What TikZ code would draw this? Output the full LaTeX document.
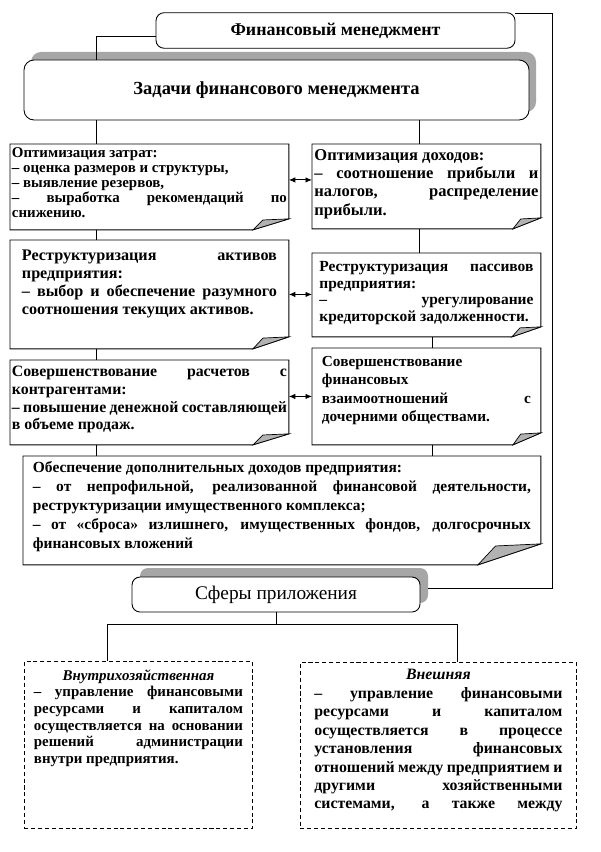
\documentclass[tikz,border=0pt]{standalone}
\usepackage{fontspec}
\setmainfont{Liberation Serif}
\usetikzlibrary{arrows.meta,shadows}
\hyphenpenalty=10000
\exhyphenpenalty=10000

% note box with a folded lower right corner: node, fold width (cm), fold height (cm)
\newcommand{\foldbox}[3]{%
  \draw[boxline] (#1.north west) -- (#1.north east) -- ([yshift=#3cm]#1.south east)
    -- ([xshift=-#2cm]#1.south east) -- (#1.south west) -- cycle;
  \filldraw[flap] ([xshift=-#2cm]#1.south east) -- ([xshift={-0.72*#2cm},yshift={0.9*#3cm}]#1.south east)
    -- ([yshift=#3cm]#1.south east) -- cycle;}

\tikzset{
  boxline/.style={line width=0.5pt},
  flap/.style={fill=black!30,line width=0.4pt},
  biarrow/.style={line width=0.5pt,{Latex[length=1.3mm,width=1.1mm]}-{Latex[length=1.3mm,width=1.1mm]}},
  head/.style={draw,rounded corners=0.16cm,line width=0.5pt,fill=white,inner sep=0pt},
  note/.style={inner sep=0pt,anchor=north west,font=\bfseries\fontsize{9}{10.4}\selectfont},
  field/.style={draw,dash pattern=on 2.3pt off 1.6pt,line width=0.5pt,inner sep=0pt,anchor=north west,
    font=\bfseries\fontsize{8.5}{9.5}\selectfont},
}

\begin{document}
\begin{tikzpicture}[line width=0.5pt]
  \useasboundingbox (0,0) rectangle (12,-17.04);
  % ============ ЗАГОЛОВКИ ============
  \node[head,minimum width=7.18cm,minimum height=0.71cm,font=\bfseries\fontsize{10.2}{12}\selectfont] (title) at (6.71,-0.61) {Финансовый менеджмент};
  \node[head,rounded corners=0.2cm,minimum width=10.1cm,minimum height=1.2cm,
    drop shadow={shadow xshift=0.14cm,shadow yshift=0.16cm,fill=black!35,opacity=1},
    font=\bfseries\fontsize{10.5}{12}\selectfont] (tasks) at (5.53,-1.8) {Задачи финансового менеджмента};
  % ============ ЗАДАЧИ (левый столбец) ============
  \node[note,minimum width=5.56cm,minimum height=1.70cm,font=\bfseries\fontsize{8.5}{8.6}\selectfont] (cost) at (0.2,-2.88)
    {\parbox[c][1.58cm][t]{5.5cm}{Оптимизация затрат:\\
     – оценка размеров и структуры,\\
     – выявление резервов,\\
     – выработка рекомендаций по\linebreak снижению.}};
  \foldbox{cost}{0.72}{0.22}
  \node[note,minimum width=5.56cm,minimum height=2.16cm,font=\bfseries\fontsize{9.2}{10.4}\selectfont] (assets) at (0.2,-4.8)
    {\parbox[c][1.80cm][t]{5.1cm}{Реструктуризация активов\linebreak предприятия:\\
     – выбор и обеспечение разумного\linebreak соотношения текущих активов.}};
  \foldbox{assets}{0.72}{0.24}
  \node[note,minimum width=5.56cm,minimum height=1.68cm,font=\bfseries\fontsize{9}{10}\selectfont] (settle) at (0.2,-7.2)
    {\parbox[c][1.44cm][t]{5.5cm}{Совершенствование расчетов с\linebreak контрагентами:\\
     – повышение денежной составляющей\linebreak в объеме продаж.}};
  \foldbox{settle}{0.72}{0.22}
  % ============ ЗАДАЧИ (правый столбец) ============
  \node[note,minimum width=4.56cm,minimum height=1.68cm,font=\bfseries\fontsize{9.4}{10.4}\selectfont] (income) at (6.24,-2.88)
    {\parbox[c][1.48cm][t]{4.48cm}{Оптимизация доходов:\\
     – соотношение прибыли и\linebreak налогов, распределение\linebreak прибыли.}};
  \foldbox{income}{0.56}{0.22}
  \node[note,minimum width=4.56cm,minimum height=1.66cm,font=\bfseries\fontsize{8.8}{9.5}\selectfont] (liab) at (6.24,-5.06)
    {\parbox[c][1.34cm][t]{4.28cm}{Реструктуризация пассивов\linebreak предприятия:\\
     – урегулирование\linebreak кредиторской задолженности.}};
  \foldbox{liab}{0.58}{0.2}
  \node[note,minimum width=4.56cm,minimum height=1.92cm,font=\bfseries\fontsize{8.7}{10.4}\selectfont] (subsid) at (6.24,-6.96)
    {\parbox[c][1.60cm][t]{4.18cm}{Совершенствование\newline финансовых\newline
     взаимоотношений с\linebreak дочерними обществами.}};
  \foldbox{subsid}{0.56}{0.24}
  % ============ ДОПОЛНИТЕЛЬНЫЕ ДОХОДЫ ============
  \node[note,minimum width=10.34cm,minimum height=2.16cm,font=\bfseries\fontsize{8.8}{10.8}\selectfont] (extra) at (0.46,-9.12)
    {\parbox[c][1.96cm][t]{9.96cm}{Обеспечение дополнительных доходов предприятия:\\
     – от непрофильной, реализованной финансовой деятельности,\linebreak реструктуризации имущественного комплекса;\\
     – от «сброса» излишнего, имущественных фондов, долгосрочных\linebreak финансовых вложений}};
  \foldbox{extra}{1.26}{0.42}
  % ============ СФЕРЫ ПРИЛОЖЕНИЯ ============
  \node[head,minimum width=5.76cm,minimum height=0.7cm,
    drop shadow={shadow xshift=0.16cm,shadow yshift=0.18cm,fill=black!35,opacity=1},
    font=\fontsize{11}{13}\selectfont] (spheres) at (5.52,-11.89) {Сферы приложения};
  \node[field,minimum width=4.56cm,minimum height=3.34cm] (inner) at (0.48,-13.22)
    {\parbox[c][3.02cm][t]{4.18cm}{\makebox[\linewidth]{\textit{Внутрихозяйственная}}\\
     – управление финансовыми\linebreak ресурсами и капиталом\linebreak осуществляется на основании\linebreak
     решений администрации\linebreak внутри предприятия.}};
  \node[field,minimum width=5.52cm,minimum height=3.32cm,font=\bfseries\fontsize{9}{10.5}\selectfont] (outer) at (6.0,-13.24)
    {\parbox[c][3.04cm][t]{4.96cm}{\makebox[\linewidth]{\textit{Внешняя}}\\
     – управление финансовыми\linebreak ресурсами и капиталом\linebreak осуществляется в процессе\linebreak
     установления финансовых\linebreak отношений между предприятием и\linebreak другими хозяйственными\linebreak
     системами, а также между\parfillskip=0pt\par}};
  % ---------- связи ----------
  \coordinate (lx) at (1.93,0);
  \coordinate (mx) at (8.38,0);
  \coordinate (nx) at (8.65,0);
  \coordinate (rtop) at (11.04,-0.27);
  \coordinate (tl) at (2.14,-12.48);
  \coordinate (tr) at (9.14,-12.48);
  \draw ([yshift=-0.12cm]title.west) -| (tasks.north -| lx);
  \draw (tasks.south -| lx) -- (cost.north -| lx);
  \draw (cost.south -| lx) -- (assets.north -| lx);
  \draw (assets.south -| lx) -- (settle.north -| lx);
  \draw (settle.south -| lx) -- (extra.north -| lx);
  \draw (tasks.south -| mx) -- (income.north -| mx);
  \draw (income.south -| mx) -- (liab.north -| mx);
  \draw (liab.south -| nx) -- (subsid.north -| nx);
  \draw (subsid.south -| nx) -- (extra.north -| nx);
  \draw (title.north east |- rtop) -- (rtop) |- ([xshift=0.16cm,yshift=0.12cm]spheres.east);
  \draw (spheres.south) -- (spheres.south |- tl);
  \draw (inner.north -| tl) -- (tl) -- (tr) -- (outer.north -| tr);
  % ---------- двойные стрелки ----------
  \coordinate (a1) at ([yshift=0.14cm]cost.east);
  \draw[biarrow] (a1) -- (a1 -| income.west);
  \draw[biarrow] (assets.east) -- (assets.east -| liab.west);
  \draw[biarrow] (subsid.west) -- (subsid.west -| settle.east);
\end{tikzpicture}
\end{document}
